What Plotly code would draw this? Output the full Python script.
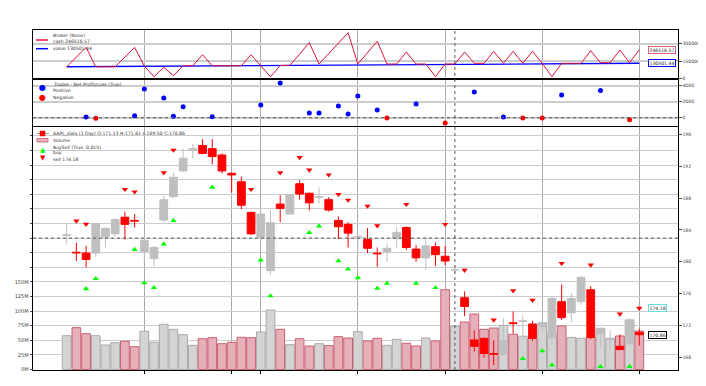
import plotly.graph_objects as go

# ---------------- data ----------------
opens = [183.3, 181.2, 181.1, 181.1, 183.1, 183.5, 185.6, 185.2, 181.3, 180.4,
         185.25, 188.2, 191.4, 194.0, 194.6, 194.2, 193.4, 191.1, 190.05, 186.2,
         183.1, 178.9, 187.25, 186.0, 189.8, 188.6, 188.1, 187.8, 185.2, 184.7,
         183.1, 182.8, 181.1, 181.3, 182.9, 184.3, 181.6, 180.5, 181.9, 180.7,
         178.95, 175.5, 170.2, 170.4, 168.5, 168.4, 172.35, 172.5, 172.2, 171.9,
         170.5, 175.0, 173.6, 175.0, 176.5, 171.0, 170.25, 169.4, 169.8, 171.13]
highs = [184.9, 182.4, 182.0, 184.9, 184.3, 185.5, 186.3, 186.0, 183.1, 182.0,
         188.35, 191.16, 194.2, 194.8, 195.4, 195.4, 193.6, 191.2, 190.7, 186.3,
         186.4, 186.5, 188.35, 188.5, 190.25, 188.7, 189.35, 188.1, 185.68, 184.98,
         183.5, 184.24, 181.8, 182.3, 184.3, 184.45, 182.1, 183.15, 182.4, 181.97,
         179.6, 176.3, 171.4, 170.5, 170.15, 172.9, 173.77, 173.3, 172.6, 172.6,
         175.6, 177.15, 176.05, 178.2, 176.95, 171.8, 171.4, 170.9, 172.9, 171.61]
lows = [182.3, 180.1, 179.3, 180.6, 181.8, 183.1, 182.8, 184.3, 180.05, 179.45,
        185.0, 188.0, 191.3, 193.0, 193.5, 192.23, 191.1, 188.7, 186.6, 183.4,
        182.97, 178.4, 185.0, 185.9, 187.8, 186.45, 187.3, 186.3, 182.85, 181.8,
        180.7, 181.1, 179.37, 180.0, 181.8, 181.5, 180.0, 179.0, 179.45, 179.6,
        178.5, 173.2, 168.75, 168.0, 167.05, 168.2, 171.0, 170.4, 170.1, 171.4,
        169.6, 172.7, 172.4, 174.6, 170.3, 169.4, 168.9, 168.9, 169.4, 169.50]
closes = [183.4, 181.1, 180.3, 184.8, 184.2, 185.3, 184.7, 185.1, 182.7, 181.8,
          187.8, 190.6, 193.0, 194.2, 193.6, 193.2, 191.4, 190.9, 187.1, 183.5,
          186.0, 184.9, 186.7, 188.4, 188.5, 187.4, 188.2, 186.5, 184.4, 183.6,
          183.2, 181.7, 181.0, 181.7, 183.7, 181.8, 180.5, 182.0, 180.9, 180.1,
          179.0, 174.4, 169.4, 168.5, 168.4, 170.1, 172.25, 172.6, 170.4, 172.2,
          175.4, 173.0, 175.4, 178.06, 170.5, 171.6, 170.35, 169.0, 172.7, 170.86]
volumes_m = [57.9, 71.6, 61.3, 57.9, 42.0, 45.9, 48.3, 39.0, 65.4, 46.6,
             77.4, 68.8, 59.6, 41.4, 52.7, 54.5, 44.2, 46.6, 55.1, 54.5,
             64.2, 101.9, 68.8, 42.5, 52.7, 40.2, 44.2, 40.8, 56.2, 53.9,
             64.7, 49.0, 53.4, 41.4, 51.7, 44.9, 40.2, 53.9, 48.8, 136.6,
             74.0, 81.3, 95.0, 68.8, 71.0, 75.6, 60.3, 57.0, 53.4, 80.0,
             62.0, 74.5, 55.0, 53.4, 55.1, 70.5, 53.4, 57.4, 84.8, 65.9]
cash = [100000, 184000, 268000, 100000, 100000, 100000, 184000, 268000, 106000, 14000,
        95000, 22500, 109000, 109000, 204000, 109000, 109000, 109000, 109000, 204000,
        109000, 13000, 111000, 112000, 210000, 308700, 124000, 214000, 305000, 395000,
        124000, 222000, 321000, 124000, 124000, 228000, 124000, 124000, 14000, 124000,
        124000, 228000, 130000, 130000, 234000, 130000, 234000, 130000, 234000, 130000,
        14000, 130000, 130000, 130000, 239000, 135000, 135000, 245000, 135000, 246516.57]
value = [100000, 100400, 99800, 101200, 101900, 102600, 102300, 103100, 104200, 104000,
         105100, 105900, 106300, 106800, 106500, 107200, 107900, 108300, 108100, 108800,
         109400, 109200, 110300, 110900, 111400, 111200, 112100, 112800, 113300, 113100,
         114200, 114900, 115300, 115800, 116400, 116200, 117100, 117900, 118300, 118900,
         119600, 120400, 121200, 121900, 122300, 122800, 123600, 124100, 124500, 125300,
         125900, 126400, 127100, 127800, 128300, 128900, 129400, 129900, 130200, 130501.44]
trade_idx = [2, 3, 7, 8, 10, 11, 12, 15, 20, 22, 25, 26, 28, 29, 30, 32, 33, 36, 39,
             42, 45, 47, 49, 51, 55, 58]
trade_pnl = [90, -75, 250, 3590, 2460, 175, 1375, 125, 1590, 4340, 590, 590, 1460, 460,
             2710, 960, -40, 1710, -660, 3210, 90, -40, -40, 2840, 3410, -250]
buy_idx = [2, 3, 7, 8, 9, 10, 11, 15, 20, 21, 25, 26, 28, 29, 30, 32, 33, 36, 38, 42,
           47, 49, 50, 55, 58]
sell_idx = [1, 2, 6, 7, 10, 11, 19, 22, 24, 25, 27, 28, 29, 31, 32, 35, 39, 41, 44, 46,
            48, 51, 54, 57, 59]
bardist = 0.015
vol_ticks_m = [0, 25, 50, 75, 100, 125, 150, 175, 200, 225, 250, 275, 300, 325, 350, 375, 400]
price_ticks = [168, 172, 176, 180, 184, 188, 192, 196]
x_grid = [8, 17, 20, 30, 39, 49, 59]
cursor_i = 40

n = len(closes)
idx = list(range(n))

# ---------------- layout helpers (page pixel coords) ----------------
OFF = 8                      # default page body margin
W, H = 706 - OFF, 386 - OFF  # figure size so it fits the window
PX0, PX1, PY0, PY1 = 33, 678, 30, 370   # plot area in page pixels
L, T = PX0 - OFF, PY0 - OFF
PW, PH = PX1 - PX0, PY1 - PY0
R, B = W - L - PW, H - T - PH
def px(x): return (x - PX0) / PW
def py(y): return (PY1 - y) / PH

FONT = "DejaVu Sans"
TXT = "#333333"
GRID = "#cccccc"
VGRID = "#aaaaaa"

fig = go.Figure()

# ---- top panel: broker ----
fig.add_trace(go.Scatter(x=idx, y=value, mode="lines", line=dict(color="#0000ff", width=1.3),
                         xaxis="x", yaxis="y", showlegend=False, hoverinfo="skip"))
fig.add_trace(go.Scatter(x=idx, y=cash, mode="lines", line=dict(color="#dc143c", width=1),
                         xaxis="x", yaxis="y", showlegend=False, hoverinfo="skip"))

# ---- middle panel: trades ----
pos_x = [i for i, v in zip(trade_idx, trade_pnl) if v >= 0]
pos_y = [v for v in trade_pnl if v >= 0]
neg_x = [i for i, v in zip(trade_idx, trade_pnl) if v < 0]
neg_y = [v for v in trade_pnl if v < 0]
fig.add_trace(go.Scatter(x=pos_x, y=pos_y, mode="markers", marker=dict(color="#0000ff", size=5),
                         xaxis="x2", yaxis="y2", showlegend=False, hoverinfo="skip"))
fig.add_trace(go.Scatter(x=neg_x, y=neg_y, mode="markers", marker=dict(color="#ff0000", size=5),
                         xaxis="x2", yaxis="y2", showlegend=False, hoverinfo="skip"))

# ---- price panel: volume (y3) ----
up = [c >= o for o, c in zip(opens, closes)]
vol = [v * 1e6 for v in volumes_m]
fig.add_trace(go.Bar(x=[i for i in idx if up[i]], y=[vol[i] for i in idx if up[i]], width=0.9,
                     marker=dict(color="#d4d4d4", line=dict(color="#aaaaaa", width=1)),
                     xaxis="x3", yaxis="y3", showlegend=False, hoverinfo="skip"))
fig.add_trace(go.Bar(x=[i for i in idx if not up[i]], y=[vol[i] for i in idx if not up[i]], width=0.9,
                     marker=dict(color="#e6b0b9", line=dict(color="#cc6073", width=1)),
                     xaxis="x3", yaxis="y3", showlegend=False, hoverinfo="skip"))

# ---- candles (y4) ----
for is_up, col in ((True, "#bfbfbf"), (False, "#ff0000")):
    sel = [i for i in idx if up[i] == is_up]
    wx, wy = [], []
    for i in sel:
        wx += [i, i, None]
        wy += [lows[i], highs[i], None]
    fig.add_trace(go.Scatter(x=wx, y=wy, mode="lines", line=dict(color=col, width=1),
                             xaxis="x3", yaxis="y4", showlegend=False, hoverinfo="skip"))
    fig.add_trace(go.Bar(x=sel,
                         y=[max(abs(closes[i] - opens[i]), 0.02) for i in sel],
                         base=[min(opens[i], closes[i]) for i in sel],
                         width=0.8, marker=dict(color=col, line=dict(color=col, width=1)),
                         xaxis="x3", yaxis="y4", showlegend=False, hoverinfo="skip"))

# ---- buy / sell markers ----
fig.add_trace(go.Scatter(x=buy_idx, y=[lows[i] * (1 - bardist) for i in buy_idx], mode="markers",
                         marker=dict(symbol="triangle-up", color="#00ff00", size=5.5),
                         xaxis="x3", yaxis="y4", showlegend=False, hoverinfo="skip"))
fig.add_trace(go.Scatter(x=sell_idx, y=[highs[i] * (1 + bardist) for i in sell_idx], mode="markers",
                         marker=dict(symbol="triangle-down", color="#ff0000", size=5.5),
                         xaxis="x3", yaxis="y4", showlegend=False, hoverinfo="skip"))

xr = [-3.47, 62.99]
rfont = dict(family=FONT, size=4.6, color="#444444")
lfont = dict(family=FONT, size=5, color="#444444")
xcommon = dict(range=xr, tickvals=x_grid, showticklabels=False, showgrid=True, gridcolor=VGRID,
               gridwidth=1, showline=True, mirror=True, linecolor="#000000", linewidth=1,
               zeroline=False, fixedrange=True)
ycommon = dict(showline=True, mirror=True, linecolor="#000000", linewidth=1, zeroline=False,
               ticks="outside", ticklen=2.5, tickwidth=1, tickcolor="#444444",
               automargin=False, fixedrange=True)

last_sell = highs[sell_idx[-1]] * (1 + bardist)

fig.update_layout(
    width=W, height=H, margin=dict(l=L, r=R, t=T, b=B, autoexpand=False),
    paper_bgcolor="white", plot_bgcolor="white", barmode="overlay", showlegend=False,
    xaxis=dict(domain=[0, 1], anchor="y", ticks="", **xcommon),
    xaxis2=dict(domain=[0, 1], anchor="y2", ticks="", **xcommon),
    xaxis3=dict(domain=[0, 1], anchor="y3", ticks="outside", ticklen=3, tickcolor="#000000", **xcommon),
    yaxis=dict(domain=[py(78.45), 1], anchor="x", side="right", range=[-1300, 418800],
               tickvals=[0, 150000, 300000], ticktext=["0", "150000", "300000"], tickfont=rfont,
               showgrid=True, gridcolor=GRID, gridwidth=1.5, **ycommon),
    yaxis2=dict(domain=[py(126.2), py(79.5)], anchor="x2", side="right", range=[-1062, 4775],
                tickvals=[0, 2000, 4000], ticktext=["0", "2000", "4000"], tickfont=rfont,
                showgrid=True, gridcolor=GRID, gridwidth=1.5, **ycommon),
    yaxis3=dict(domain=[0, py(127.2)], anchor="x3", side="left", range=[-0.86e6, 414.9e6],
                tickvals=[v * 1e6 for v in vol_ticks_m], tickfont=lfont,
                ticktext=[f"{v}M" if v <= 150 else "" for v in vol_ticks_m],
                showgrid=True, gridcolor=GRID, gridwidth=1.3, **ycommon),
    yaxis4=dict(overlaying="y3", anchor="x3", side="right", range=[166.43, 196.89],
                tickvals=price_ticks, ticktext=[str(v) for v in price_ticks],
                showgrid=False, showline=False, zeroline=False,
                ticks="outside", ticklen=2.5, tickcolor="#444444", tickfont=rfont,
                automargin=False, fixedrange=True),
)

shapes = []
shapes.append(dict(type="line", xref="x3", yref="paper", x0=cursor_i, x1=cursor_i, y0=0, y1=1,
                   line=dict(color="#555555", width=1, dash="dot"), layer="above"))
shapes.append(dict(type="line", xref="paper", yref="y2", x0=0, x1=1, y0=0, y1=0,
                   line=dict(color="#555555", width=1, dash="dot"), layer="above"))
shapes.append(dict(type="line", xref="paper", yref="y3", x0=0, x1=1, y0=225e6, y1=225e6,
                   line=dict(color="#555555", width=1, dash="dot"), layer="above"))
shapes.append(dict(type="line", xref="paper", yref="paper", x0=px(36), x1=px(48), y0=py(40), y1=py(40),
                   line=dict(color="#dc143c", width=1.5)))
shapes.append(dict(type="line", xref="paper", yref="paper", x0=px(36), x1=px(48), y0=py(48.7), y1=py(48.7),
                   line=dict(color="#0000ff", width=1.5)))
shapes.append(dict(type="line", xref="paper", yref="paper", x0=px(37), x1=px(49), y0=py(133.5), y1=py(133.5),
                   line=dict(color="#999999", width=1)))
shapes.append(dict(type="rect", xref="paper", yref="paper", x0=px(40), x1=px(45), y0=py(136), y1=py(131),
                   line=dict(color="#ff0000", width=0.5), fillcolor="#ff0000"))
shapes.append(dict(type="rect", xref="paper", yref="paper", x0=px(37), x1=px(48), y0=py(142), y1=py(138.5),
                   line=dict(color="#cc6073", width=0.8), fillcolor="#e6b0b9"))
fig.update_layout(shapes=shapes)

ann = []
def text(x, y, s, size=4.6, color=TXT):
    ann.append(dict(xref="paper", yref="paper", x=px(x), y=py(y), text=s, showarrow=False,
                    xanchor="left", yanchor="middle", font=dict(family=FONT, size=size, color=color)))
def icon(x, y, s, color, size=7):
    ann.append(dict(xref="paper", yref="paper", x=px(x), y=py(y), text=s, showarrow=False,
                    xanchor="center", yanchor="middle", font=dict(family=FONT, size=size, color=color)))

text(50.5, 35.3, "Broker (None)")
text(50.5, 42, "cash %.2f" % cash[-1])
text(50.5, 48.7, "value %.2f" % value[-1])
text(50.5, 84.7, "Trades - Net Profit/Loss (True)")
text(50.5, 90.7, "Positive")
text(50.5, 97.3, "Negative")
icon(42.7, 88, "●", "#0000ff", 8)
icon(42.7, 97.3, "●", "#ff0000", 8)
text(50.5, 133.5, "AAPL_data (1 Day) O:%.2f H:%.2f L:%.2f C:%.2f" % (opens[-1], highs[-1], lows[-1], closes[-1]))
text(50.5, 140.3, "Volume")
text(50.5, 147.5, "BuySell (True, 0.015)")
text(50.5, 152.7, "buy")
text(50.5, 159.3, "sell %.2f" % last_sell)
icon(42.7, 150, "▲", "#00ff00", 7)
icon(42.7, 158.3, "▼", "#ff0000", 7)

def tag(xr_px, yref, y, s, border):
    ann.append(dict(xref="paper", yref=yref, x=px(xr_px), y=y, text=s, showarrow=False,
                    xanchor="right", yanchor="middle", bgcolor="white", bordercolor=border,
                    borderwidth=1, borderpad=0.5, font=dict(family=FONT, size=4.6, color="#222222")))
tag(676, "y", cash[-1], "%.2f" % cash[-1], "#e0607a")
tag(676, "y", value[-1], "%.2f" % value[-1], "#0000ff")
tag(666.7, "y4", last_sell, "%.2f" % last_sell, "#66dddd")
tag(666.7, "y4", closes[-1], "%.2f" % closes[-1], "#000000")
fig.update_layout(annotations=ann)

fig.write_html("out.html")
